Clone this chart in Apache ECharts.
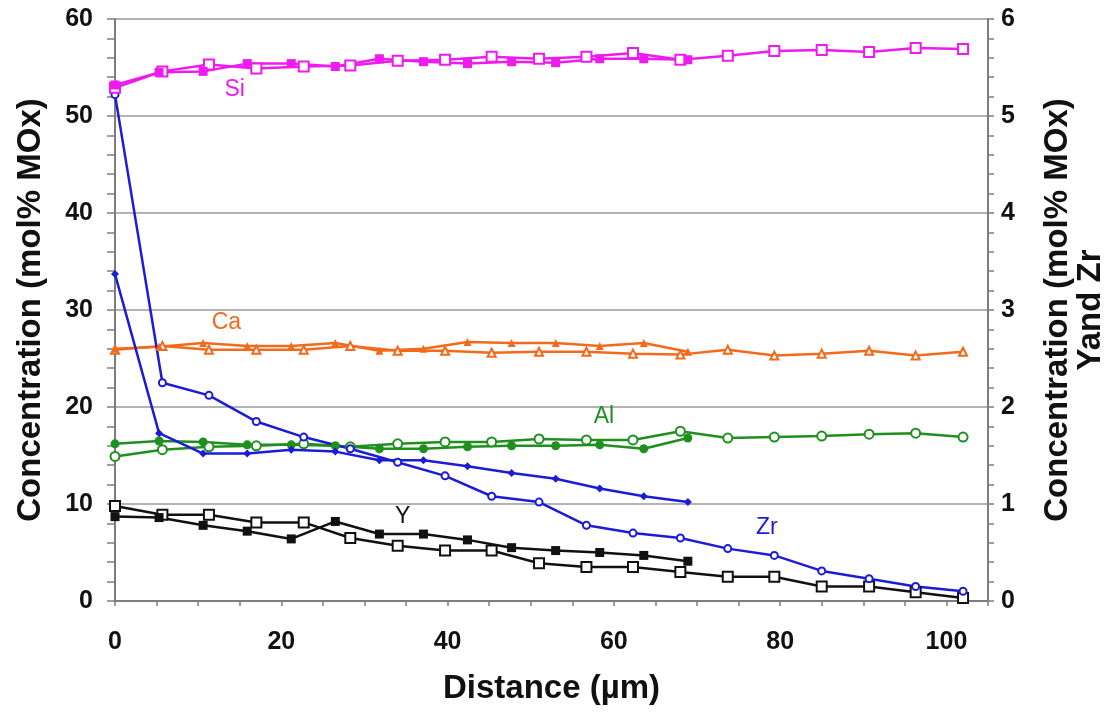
<!DOCTYPE html>
<html>
<head>
<meta charset="utf-8">
<script src="https://cdn.jsdelivr.net/npm/echarts@6/dist/echarts.min.js"></script>
<style>
  html, body { margin: 0; padding: 0; background: #fff; }
  #chart { width: 1115px; height: 715px; }
</style>
</head>
<body>
<div id="chart"></div>
<script>
var chart = echarts.init(document.getElementById('chart'), null, { renderer: 'canvas' });

// distances (µm) - filled symbols are one profile, open symbols the other
var xFilled = [0, 5.3, 10.6, 15.9, 21.2, 26.5, 31.8, 37.1, 42.4, 47.7, 53, 58.3, 63.6, 68.9];
var xOpen = [0, 5.7, 11.3, 17, 22.7, 28.3, 34, 39.7, 45.3, 51, 56.7, 62.3, 68, 73.7, 79.3, 85, 90.7, 96.3, 102];

// left axis (mol% MOx)
var siFilled = [53.2, 54.5, 54.6, 55.4, 55.4, 55.1, 55.9, 55.6, 55.4, 55.6, 55.5, 55.9, 55.9, 55.8];
var siOpen = [52.9, 54.6, 55.3, 54.9, 55.1, 55.2, 55.7, 55.8, 56.1, 55.9, 56.1, 56.5, 55.8, 56.2, 56.7, 56.8, 56.6, 57.0, 56.9];
var caFilled = [26.0, 26.2, 26.6, 26.3, 26.3, 26.6, 25.8, 26.0, 26.7, 26.6, 26.6, 26.3, 26.6, 25.7];
var caOpen = [25.9, 26.3, 25.9, 25.9, 25.9, 26.3, 25.8, 25.8, 25.6, 25.7, 25.7, 25.5, 25.4, 25.9, 25.3, 25.5, 25.8, 25.3, 25.7];
var alFilled = [16.2, 16.5, 16.4, 16.1, 16.1, 16.0, 15.7, 15.7, 15.9, 16.0, 16.0, 16.1, 15.7, 16.8];
var alOpen = [14.9, 15.6, 15.9, 16.0, 16.2, 15.9, 16.2, 16.4, 16.4, 16.7, 16.6, 16.6, 17.5, 16.8, 16.9, 17.0, 17.2, 17.3, 16.9];

// right axis (Y and Zr)
var yFilled = [0.87, 0.86, 0.78, 0.72, 0.64, 0.82, 0.69, 0.69, 0.63, 0.55, 0.52, 0.50, 0.47, 0.41];
var yOpen = [0.98, 0.89, 0.89, 0.81, 0.81, 0.65, 0.57, 0.52, 0.52, 0.39, 0.35, 0.35, 0.30, 0.25, 0.25, 0.15, 0.15, 0.09, 0.03];
var zrFilled = [3.37, 1.73, 1.52, 1.52, 1.56, 1.54, 1.45, 1.45, 1.39, 1.32, 1.26, 1.16, 1.08, 1.02];
var zrOpen = [5.22, 2.25, 2.12, 1.85, 1.69, 1.57, 1.43, 1.29, 1.08, 1.02, 0.78, 0.70, 0.65, 0.54, 0.47, 0.31, 0.23, 0.15, 0.10];

// element labels (position in left-axis units)
var labelNames = ['Si', 'Ca', 'Al', 'Y', 'Zr'];
var labelX = [14.4, 13.4, 58.8, 34.6, 78.4];
var labelY = [52.7, 28.7, 19.0, 8.7, 7.6];

var colors = { Si: '#ee1aee', Ca: '#f26a1b', Al: '#1f8f1f', Y: '#111111', Zr: '#1c1cd6' };
var FONT = '"Liberation Sans", Arial, sans-serif';

function pairs(xs, ys) {
  return xs.map(function (x, i) { return [x, ys[i]]; });
}

function line(name, xs, ys, symbol, size, axis) {
  var c = colors[name];
  var open = symbol.indexOf('empty') === 0;
  return {
    name: name,
    type: 'line',
    yAxisIndex: axis,
    data: pairs(xs, ys),
    symbol: symbol,
    symbolSize: size,
    showAllSymbol: true,
    lineStyle: { color: c, width: 2.5 },
    itemStyle: { color: c, borderColor: c, borderWidth: open ? 1.8 : 0 },
    emphasis: { disabled: true },
    animation: false
  };
}

var axisGray = '#7d7d7d';

var option = {
  backgroundColor: '#fff',
  animation: false,
  grid: { left: 115, right: 125, top: 19, bottom: 114 },
  xAxis: {
    type: 'value',
    min: 0,
    max: 105,
    interval: 5,
    name: 'Distance (µm)',
    nameLocation: 'middle',
    nameGap: 71,
    nameTextStyle: { fontFamily: FONT, fontWeight: 'bold', fontSize: 33, color: '#111' },
    axisLine: { lineStyle: { color: axisGray, width: 2 } },
    axisTick: { length: 5, lineStyle: { color: axisGray, width: 1.5 } },
    axisLabel: {
      margin: 29,
      fontFamily: FONT, fontWeight: 'bold', fontSize: 25, color: '#111',
      formatter: function (v) { return v % 20 === 0 ? String(v) : ''; }
    },
    splitLine: { show: false }
  },
  yAxis: [
    {
      type: 'value',
      min: 0,
      max: 60,
      interval: 10,
      name: 'Concentration (mol% MOx)',
      nameLocation: 'middle',
      nameGap: 68,
      nameRotate: 90,
      nameTextStyle: { fontFamily: FONT, fontWeight: 'bold', fontSize: 33, color: '#111' },
      axisLine: { show: true, lineStyle: { color: axisGray, width: 2 } },
      axisTick: { show: true, length: 8, lineStyle: { color: axisGray, width: 1.5 } },
      minorTick: { show: true, splitNumber: 5, length: 8, lineStyle: { color: axisGray, width: 1.5 } },
      axisLabel: { margin: 22, fontFamily: FONT, fontWeight: 'bold', fontSize: 25, color: '#111' },
      splitLine: { show: true, lineStyle: { color: '#b3b3b3', width: 2 } }
    },
    {
      type: 'value',
      min: 0,
      max: 6,
      interval: 1,
      position: 'right',
      name: 'Concentration (mol% MOx)\nYand Zr',
      nameLocation: 'middle',
      nameGap: 53,
      nameRotate: 90,
      nameTextStyle: { fontFamily: FONT, fontWeight: 'bold', fontSize: 33, color: '#111', lineHeight: 33 },
      axisLine: { show: true, lineStyle: { color: axisGray, width: 2 } },
      axisTick: { show: true, length: 6, lineStyle: { color: axisGray, width: 1.5 } },
      minorTick: { show: true, splitNumber: 5, length: 6, lineStyle: { color: axisGray, width: 1.5 } },
      axisLabel: { margin: 13, fontFamily: FONT, fontWeight: 'bold', fontSize: 25, color: '#111' },
      splitLine: { show: false }
    }
  ],
  series: [
    line('Ca', xOpen, caOpen, 'emptyTriangle', 8, 0),
    line('Ca', xFilled, caFilled, 'triangle', 8, 0),
    line('Al', xOpen, alOpen, 'emptyCircle', 9, 0),
    line('Al', xFilled, alFilled, 'circle', 9, 0),
    line('Y', xOpen, yOpen, 'emptyRect', 10, 1),
    line('Y', xFilled, yFilled, 'rect', 9, 1),
    line('Zr', xOpen, zrOpen, 'emptyCircle', 7, 1),
    line('Zr', xFilled, zrFilled, 'diamond', 8, 1),
    line('Si', xOpen, siOpen, 'emptyRect', 10, 0),
    line('Si', xFilled, siFilled, 'rect', 9, 0),
    {
      type: 'scatter',
      yAxisIndex: 0,
      symbolSize: 0,
      silent: true,
      animation: false,
      itemStyle: { opacity: 1 },
      data: labelNames.map(function (n, i) {
        return {
          value: [labelX[i], labelY[i]],
          label: {
            show: true,
            position: 'inside',
            formatter: n,
            fontFamily: FONT,
            fontSize: 23,
            color: colors[n]
          }
        };
      })
    }
  ]
};

chart.setOption(option);
window.addEventListener('resize', chart.resize);
</script>
</body>
</html>
